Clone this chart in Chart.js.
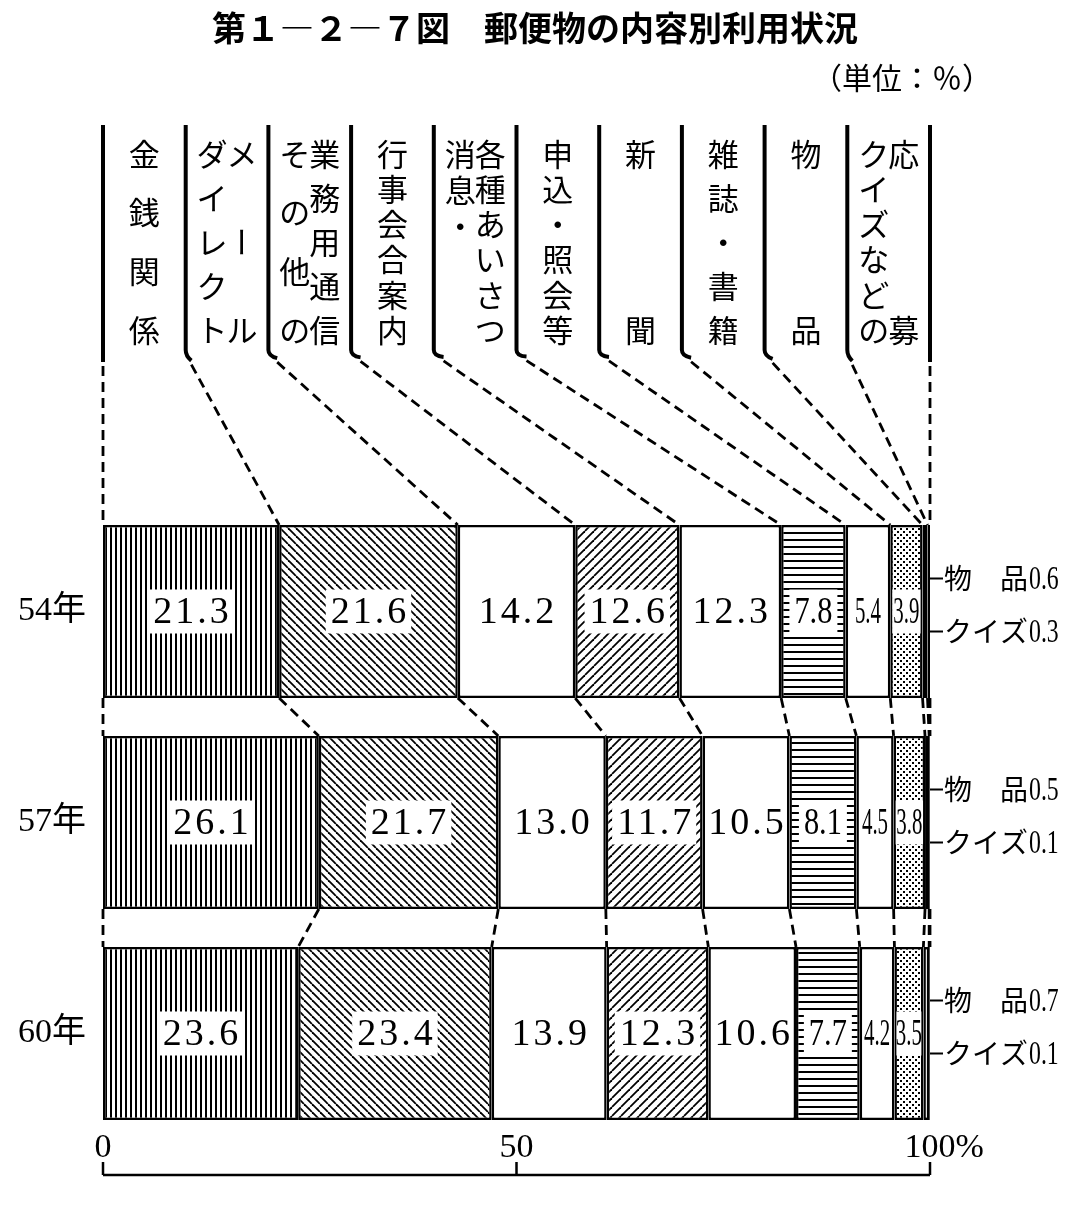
<!DOCTYPE html>
<html lang="ja">
<head>
<meta charset="UTF-8">
<title>郵便物の内容別利用状況</title>
<style>
  body { margin: 0; background: #fff; }
  #wrap { width: 1075px; height: 1209px; }
</style>
<script src="https://cdn.jsdelivr.net/npm/chart.js"></script>
</head>
<body>
<div id="wrap"><canvas id="mailChart" width="1075" height="1209"></canvas></div>
<script>
// 年度
const years = ['54年', '57年', '60年'];
// 内容別の区分
const categories = ['金銭関係', 'ダイレクトメール', 'その他の業務用通信', '行事会合案内', '消息・各種あいさつ',
                    '申込・照会等', '新聞', '雑誌・書籍', '物品', 'クイズなどの応募'];
// 見出しの縦書き（左の行から読む）
const headerLines = [['金銭関係'], ['ダイレクト', 'メール'], ['その他の', '業務用通信'], ['行事会合案内'],
                     ['消息・', '各種あいさつ'], ['申込・照会等'], ['新聞'], ['雑誌・書籍'], ['物品'], ['クイズなどの', '応募']];
// 棒の右に出す小さい区分
const sideLabels = ['物　品', 'クイズ'];
// 構成比 (%)
const share54 = [21.3, 21.6, 14.2, 12.6, 12.3, 7.8, 5.4, 3.9, 0.6, 0.3];
const share57 = [26.1, 21.7, 13.0, 11.7, 10.5, 8.1, 4.5, 3.8, 0.5, 0.1];
const share60 = [23.6, 23.4, 13.9, 12.3, 10.6, 7.7, 4.2, 3.5, 0.7, 0.1];
const xTicks = [0, 50, 100];

const canvas = document.getElementById('mailChart');
const mainCtx = canvas.getContext('2d');

// hatch patterns like the printed figure
function makePattern(kind) {
    const s = { vert: 5, back: 8, fwd: 9, horiz: 7, dots: 6 }[kind];
    const c = document.createElement('canvas');
    c.width = s; c.height = s;
    const g = c.getContext('2d');
    g.fillStyle = '#fff';
    g.fillRect(0, 0, s, s);
    g.fillStyle = '#000';
    g.strokeStyle = '#000';
    if (kind === 'vert') g.fillRect(0, 0, 2, s);
    if (kind === 'horiz') g.fillRect(0, 0, s, 2);
    if (kind === 'dots') { g.fillRect(0, 0, 2, 2); g.fillRect(3, 3, 2, 2); }
    if (kind === 'back' || kind === 'fwd') {
        g.lineWidth = 1.8;
        for (const o of [-s, 0, s]) {
            g.beginPath();
            if (kind === 'back') { g.moveTo(o, 0); g.lineTo(o + s, s); }
            else { g.moveTo(o, s); g.lineTo(o + s, 0); }
            g.stroke();
        }
    }
    return mainCtx.createPattern(c, 'repeat');
}

const fillKinds = ['vert', 'back', null, 'fwd', null, 'horiz', null, 'dots', null, null];
const fills = fillKinds.map(k => k ? makePattern(k) : '#fff');

const datasets = categories.map((name, i) => ({
    label: name,
    data: [share54[i], share57[i], share60[i]],
    backgroundColor: fills[i],
    borderColor: '#000',
    borderWidth: 2.5,
    borderSkipped: false,
    categoryPercentage: 1,
    barPercentage: 0.82
}));

function dashed(ctx, x1, y1, x2, y2) {
    ctx.save();
    ctx.setLineDash([10, 6]);
    ctx.lineWidth = 2.8;
    ctx.beginPath();
    ctx.moveTo(x1, y1);
    ctx.lineTo(x2, y2);
    ctx.stroke();
    ctx.restore();
}

function valueLabel(ctx, text, left, right, cy, boxed) {
    const segW = right - left;
    const cx = (left + right) / 2;
    const v = parseFloat(text);
    let sx = 1, spacing = 3;
    if (v < 10) { spacing = 0; sx = segW < 50 ? 0.55 : 0.8; }
    ctx.save();
    ctx.font = '38px "Liberation Serif"';
    ctx.letterSpacing = spacing + 'px';
    const w = (ctx.measureText(text).width - spacing) * sx;
    if (boxed) {
        const bl = Math.max(left + 2, cx - w / 2 - 5);
        const br = Math.min(right - 2, cx + w / 2 + 5);
        ctx.fillStyle = '#fff';
        ctx.fillRect(bl, cy - 22, br - bl, 44);
    }
    ctx.fillStyle = '#000';
    ctx.translate(cx + spacing * sx / 2, cy + 2);
    ctx.scale(sx, 1);
    ctx.textAlign = 'center';
    ctx.textBaseline = 'middle';
    ctx.fillText(text, 0, 0);
    ctx.restore();
}

const drawing = {
    id: 'drawing',
    afterDatasetsDraw(chart) {
        const ctx = chart.ctx;
        const px = v => chart.scales.x.getPixelForValue(v);
        const nCat = categories.length;
        const nMain = nCat - sideLabels.length;

        // cumulative shares and bar edges per year
        const rows = years.map((yr, r) => {
            const cum = [0];
            chart.data.datasets.forEach(ds => cum.push(cum[cum.length - 1] + ds.data[r]));
            const el = chart.getDatasetMeta(0).data[r];
            return { cum, cy: el.y, top: el.y - el.height / 2, bottom: el.y + el.height / 2 };
        });

        ctx.save();
        ctx.fillStyle = '#000';
        ctx.strokeStyle = '#000';

        // value labels inside the bars
        rows.forEach((row, r) => {
            for (let i = 0; i < nMain; i++) {
                const el = chart.getDatasetMeta(i).data[r];
                const left = Math.min(el.x, el.base), right = Math.max(el.x, el.base);
                valueLabel(ctx, chart.data.datasets[i].data[r].toFixed(1), left, right, el.y, fillKinds[i] !== null);
            }
        });

        // small categories on the right
        rows.forEach((row, r) => {
            const xr = px(100);
            const ys = [row.cy - 33, row.cy + 20];
            sideLabels.forEach((name, k) => {
                const y = ys[k];
                ctx.lineWidth = 2;
                ctx.beginPath();
                ctx.moveTo(xr, y);
                ctx.lineTo(xr + 13, y);
                ctx.stroke();
                ctx.font = '28px "Noto Sans CJK JP"';
                ctx.textAlign = 'left';
                ctx.textBaseline = 'middle';
                ctx.fillText(name, xr + 14, y);
                const nw = ctx.measureText(name).width;
                ctx.save();
                ctx.font = '34px "Liberation Serif"';
                ctx.translate(xr + 15 + nw, y + 2);
                ctx.scale(0.7, 1);
                ctx.fillText(chart.data.datasets[nMain + k].data[r].toFixed(1), 0, 0);
                ctx.restore();
            });
        });

        // year labels
        ctx.font = '34px "Liberation Serif", "Noto Sans CJK JP"';
        ctx.textAlign = 'right';
        ctx.textBaseline = 'middle';
        rows.forEach((row, r) => ctx.fillText(years[r], 86, row.cy));

        // header columns with vertical text
        const hTop = 125, hBot = 350, c0 = 154, c1 = 330;
        for (let i = 0; i <= nCat; i++) {
            const sx = px(i * 10);
            const tx = px(rows[0].cum[i]);
            const dx = tx - sx, dy = rows[0].top - hBot;
            const len = Math.hypot(dx, dy);
            const ex = sx + dx / len * 12, ey = hBot + dy / len * 12;
            ctx.lineWidth = 4;
            ctx.beginPath();
            ctx.moveTo(sx, hTop);
            ctx.lineTo(sx, hBot);
            ctx.quadraticCurveTo(sx, hBot + 6, ex, ey);
            ctx.stroke();
            dashed(ctx, ex, ey + 4, tx, rows[0].top);
        }
        ctx.font = '31px "Noto Sans CJK JP"';
        ctx.textAlign = 'center';
        ctx.textBaseline = 'middle';
        headerLines.forEach((cols, i) => {
            const cx = px(i * 10 + 5);
            const xs = cols.length === 1 ? [cx] : [cx - 15, cx + 15];
            cols.forEach((str, k) => {
                const chars = Array.from(str);
                const n = chars.length;
                const step = str.endsWith('・') ? 36 : (n > 1 ? (c1 - c0) / (n - 1) : 0);
                chars.forEach((ch, j) => {
                    const y = c0 + j * step;
                    if (ch === 'ー') {
                        ctx.save();
                        ctx.translate(xs[k], y);
                        ctx.rotate(Math.PI / 2);
                        ctx.fillText(ch, 0, 0);
                        ctx.restore();
                    } else {
                        ctx.fillText(ch, xs[k], y);
                    }
                });
            });
        });

        // connectors between the bars
        for (let r = 0; r < rows.length - 1; r++) {
            for (let i = 0; i <= nCat; i++) {
                dashed(ctx, px(rows[r].cum[i]), rows[r].bottom, px(rows[r + 1].cum[i]), rows[r + 1].top);
            }
        }

        // bottom scale
        const ay = 1175;
        ctx.lineWidth = 2.5;
        ctx.beginPath();
        ctx.moveTo(px(0), ay);
        ctx.lineTo(px(100), ay);
        xTicks.forEach(t => { ctx.moveTo(px(t), ay); ctx.lineTo(px(t), ay - 13); });
        ctx.stroke();
        ctx.font = '34px "Liberation Serif"';
        ctx.textBaseline = 'middle';
        xTicks.forEach(t => {
            ctx.textAlign = 'center';
            ctx.fillText(String(t), px(t), 1148);
            if (t === 100) {
                const w = ctx.measureText('100').width;
                ctx.textAlign = 'left';
                ctx.fillText('%', px(t) + w / 2, 1148);
            }
        });

        // title and unit
        ctx.font = 'bold 34px "Noto Sans CJK JP"';
        ctx.textAlign = 'center';
        ctx.fillText('第１―２―７図　郵便物の内容別利用状況', 535, 28);
        ctx.font = '30px "Noto Sans CJK JP"';
        ctx.textAlign = 'right';
        ctx.fillText('（単位：％）', 992, 78);
        ctx.restore();
    }
};

new Chart(canvas, {
    type: 'bar',
    data: { labels: years, datasets: datasets },
    options: {
        indexAxis: 'y',
        responsive: false,
        animation: false,
        layout: { padding: { left: 103, right: 145, top: 506, bottom: 70 } },
        plugins: { legend: { display: false }, tooltip: { enabled: false } },
        scales: {
            x: { stacked: true, min: 0, max: 100, display: false },
            y: { stacked: true, display: false }
        }
    },
    plugins: [drawing]
});
</script>
</body>
</html>
